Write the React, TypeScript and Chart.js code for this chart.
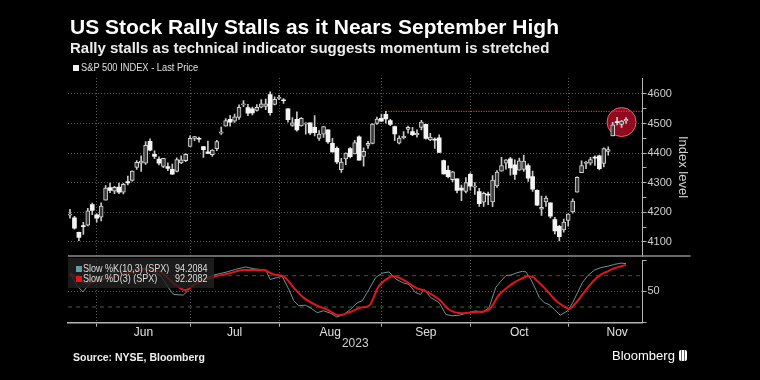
import React, { useEffect, useRef } from 'react';
import { Chart, registerables } from 'chart.js';
Chart.register(...registerables);

// S&P 500 daily candles, 22 May 2023 (index 0) to 17 Nov 2023 (index 125)
const OPEN = [4190,4181,4132,4155,4156,4226,4191,4183,4241,4283,4271,4285,4268,4304,4308,4352,4366,4366,4440,4396,4380,4355,4354,4345,4338,4367,4374,4423,4450,4450,4422,4404,4395,4415,4467,4491,4514,4508,4521,4563,4554,4550,4544,4555,4558,4598,4565,4585,4578,4550,4494,4514,4492,4498,4502,4487,4450,4464,4479,4433,4416,4344,4380,4415,4397,4455,4389,4426,4433,4500,4518,4531,4510,4490,4434,4452,4480,4473,4462,4487,4497,4445,4445,4452,4375,4342,4310,4313,4282,4270,4328,4285,4270,4234,4260,4235,4289,4339,4366,4381,4360,4342,4345,4358,4321,4274,4210,4235,4232,4175,4152,4140,4172,4201,4268,4334,4365,4366,4384,4391,4365,4406,4458,4505,4497,4509];
const HIGH = [4210,4186,4133,4166,4213,4231,4195,4232,4290,4299,4288,4299,4298,4322,4340,4375,4391,4439,4448,4408,4387,4382,4367,4363,4384,4391,4398,4458,4457,4454,4423,4441,4412,4443,4488,4517,4528,4532,4563,4578,4565,4556,4564,4581,4583,4607,4590,4595,4584,4551,4520,4540,4520,4503,4502,4527,4476,4490,4479,4450,4421,4382,4401,4419,4443,4458,4418,4440,4500,4522,4532,4541,4514,4491,4458,4473,4491,4487,4479,4511,4498,4467,4452,4462,4376,4357,4338,4313,4292,4317,4333,4300,4281,4268,4268,4324,4341,4386,4378,4386,4377,4383,4393,4364,4339,4276,4255,4255,4232,4183,4156,4177,4195,4245,4320,4374,4372,4386,4391,4393,4418,4421,4504,4521,4511,4520];
const LOW = [4180,4143,4104,4125,4154,4192,4166,4171,4241,4266,4263,4263,4262,4292,4305,4345,4338,4362,4407,4381,4360,4351,4341,4328,4336,4364,4371,4423,4442,4437,4385,4398,4389,4408,4463,4491,4491,4504,4514,4557,4527,4529,4542,4553,4547,4528,4563,4581,4568,4505,4490,4474,4491,4464,4462,4458,4443,4453,4433,4403,4364,4335,4361,4384,4397,4376,4356,4416,4431,4497,4507,4501,4493,4442,4431,4448,4467,4459,4454,4478,4447,4442,4416,4402,4329,4316,4303,4265,4239,4265,4275,4260,4220,4220,4226,4219,4284,4339,4346,4325,4311,4342,4338,4304,4270,4223,4189,4220,4181,4127,4103,4133,4153,4197,4268,4334,4347,4360,4358,4343,4353,4393,4458,4495,4487,4500];
const CLOSE = [4193,4146,4115,4151,4205,4206,4180,4221,4282,4274,4284,4268,4294,4299,4339,4369,4373,4426,4410,4389,4366,4382,4348,4329,4378,4377,4396,4450,4456,4447,4412,4399,4410,4439,4472,4510,4505,4523,4555,4566,4535,4536,4555,4567,4567,4537,4582,4589,4577,4513,4502,4478,4518,4499,4468,4469,4464,4490,4438,4404,4370,4370,4400,4388,4436,4376,4406,4433,4498,4515,4508,4516,4497,4465,4451,4457,4487,4462,4467,4505,4450,4454,4444,4402,4330,4320,4337,4274,4275,4300,4288,4288,4229,4264,4258,4309,4336,4358,4377,4350,4328,4374,4373,4315,4278,4224,4217,4248,4187,4137,4117,4167,4194,4238,4318,4358,4366,4378,4383,4347,4415,4412,4496,4503,4508,4514];

const MONTH_LABELS = ['Jun', 'Jul', 'Aug', 'Sep', 'Oct', 'Nov'];
const MONTH_END_IDX = [6, 27, 47, 70, 90, 112];
const MONTH_LABEL_IDX = [16.5, 37, 58.5, 80, 101, 123];
const YEAR_LABEL = '2023';
const PRICE_TICKS = [4100, 4150, 4200, 4250, 4300, 4350, 4400, 4450, 4500, 4550, 4600];
const SEPT_HIGH = 4541;
const SEPT_HIGH_IDX = 71;
const HIGHLIGHT_IDX = 124;
const HIGHLIGHT_VALUE = 4505;

// Slow stochastic (x = trading-day index)
const K_IDX = [0,1.5,2.9,3.8,6,9,12.8,17.3,20.3,22.5,23.3,25.5,27,29.3,32.3,35.3,37.2,39.5,41.3,44,45,46.5,47.7,49.2,50.3,51.4,52.9,54,55.6,57,58.6,60,61.5,63,64.6,65.7,67.2,68.7,70.2,71.7,73.2,74.7,76.2,77.7,78.8,79.6,81.1,83,84.5,86,87.5,89.7,91.2,92.7,94.2,95.7,96.8,98,99.1,100.2,101.7,102.5,103.6,104.7,105.5,106.6,107.7,108.9,110.2,111.9,113,114.1,115.2,116.4,117.9,119.4,120.9,122.4,123.9,125];
const K_VAL = [79,60,49,57,71,79,84,87,76,52,45,44,55,68,76,81,85,89,86,84,69,72,74,53,35,27,28,24,16,19,15,9,13,21,32,35,53,72,79,81,70,64,61,48,45,53,40,32,13,11,12,16,19,16,24,56,66,75,76,79,82,81,69,53,40,32,29,21,12,19,32,48,64,75,84,88,90,93,95,94.2];
const D_IDX = [0,3.8,6.8,11.3,17.3,20.3,23.3,25.9,28.5,32.3,36,39,43.5,45.8,48,50.3,52.5,55.6,57.8,60.4,63,65.3,67.2,69.4,71.7,72.8,75.5,77.7,80,83,85.2,88.2,91.2,94.2,96.5,98.3,99.8,101.4,102.9,104,105.1,106.6,108.1,109.6,111.5,112.2,113.4,114.9,116.4,117.9,119.4,120.9,122.4,123.9,125];
const D_VAL = [79,63,68,76,84,81,63,52,63,73,79,84,84,77,74,56,40,27,21,12,17,24,27,58,72,74,66,56,50,37,21,15,17,21,45,56,64,70,74,73,66,56,44,33,24,22,29,42,56,68,77,82,87,90,92.2];
const K_LAST = '94.2084';
const D_LAST = '92.2082';
const STOCH_TICKS = [0, 50, 100];
const OVERBOUGHT = 75;
const OVERSOLD = 25;

const X_MIN = -0.45;
const X_MAX = 128.7;
const FONT = '"Liberation Sans", Arial, sans-serif';
const GRID = '#5a5a5a';
const AXIS = '#b4b4b4';

export default function App() {
  const priceRef = useRef<HTMLCanvasElement>(null);
  const stochRef = useRef<HTMLCanvasElement>(null);

  useEffect(() => {
    const isUp = (i: number) => CLOSE[i] >= OPEN[i];
    const c1 = new Chart(priceRef.current as HTMLCanvasElement, {
      type: 'bar',
      data: {
        datasets: [
          {
            type: 'bar',
            label: 'body',
            data: OPEN.map((o, i) => ({ x: i, y: [o, CLOSE[i]] })) as any,
            backgroundColor: OPEN.map((_, i) => (isUp(i) ? '#3a3a3a' : '#f4f4f4')),
            borderColor: '#d8d8d8',
            borderWidth: OPEN.map((_, i) => (isUp(i) ? 1 : 0)) as any,
            borderSkipped: false,
            barThickness: 4,
            minBarLength: 1,
            grouped: false,
            order: 1,
          } as any,
          {
            type: 'bar',
            label: 'wick',
            data: LOW.map((l, i) => ({ x: i, y: [l, HIGH[i]] })) as any,
            backgroundColor: '#c8c8c8',
            barThickness: 1,
            grouped: false,
            order: 2,
          } as any,
          {
            type: 'line',
            label: 'Sep high',
            data: [{ x: SEPT_HIGH_IDX, y: SEPT_HIGH }, { x: X_MAX, y: SEPT_HIGH }],
            borderColor: '#e8323f',
            borderWidth: 1.4,
            borderDash: [1.2, 1.3],
            pointRadius: 0,
            order: 5,
          } as any,
          {
            type: 'scatter',
            label: 'highlight',
            data: [{ x: HIGHLIGHT_IDX, y: HIGHLIGHT_VALUE }],
            pointRadius: 14.5,
            backgroundColor: 'rgba(180,14,40,0.8)',
            borderColor: 'rgba(255,100,120,0.9)',
            borderWidth: 1,
            order: 10,
          } as any,
        ],
      },
      options: {
        animation: false,
        responsive: false,
        events: [],
        layout: { padding: { left: 68, right: 69.2, top: 78, bottom: 124 } },
        plugins: { legend: { display: false }, tooltip: { enabled: false } },
        scales: {
          x: {
            type: 'linear',
            min: X_MIN,
            max: X_MAX,
            offset: false,
            afterBuildTicks: (s: any) => { s.ticks = MONTH_END_IDX.map((v) => ({ value: v })); },
            afterFit: (s: any) => { s.height = 0; },
            ticks: { display: false },
            grid: { color: GRID, lineWidth: 1, drawTicks: false, offset: false },
            border: { display: false, dash: [1, 2] },
          },
          y: {
            type: 'linear',
            position: 'right',
            min: 4052,
            max: 4654,
            afterBuildTicks: (s: any) => { s.ticks = PRICE_TICKS.map((v) => ({ value: v })); },
            afterFit: (s: any) => { s.width = 48.3; },
            ticks: {
              autoSkip: false,
              color: '#d0d0d0',
              font: { family: FONT, size: 11 },
              padding: 1,
              callback: (v: any) => (Number(v) % 100 === 0 ? String(v) : ''),
            },
            grid: {
              color: (ctx: any) => (ctx.tick && ctx.tick.value % 100 === 0 ? GRID : 'rgba(0,0,0,0)'),
              tickColor: AXIS,
              tickLength: 4,
            },
            border: { display: true, color: AXIS, width: 1, dash: [1, 2] },
            title: { display: true, text: 'Index level', color: '#d0d0d0', font: { family: FONT, size: 13 }, padding: 0 },
          },
        },
      } as any,
    });

    const sepPlugin = {
      id: 'panelSep',
      afterDraw(chart: any) {
        const { ctx, chartArea } = chart;
        ctx.save();
        ctx.strokeStyle = '#8c8c8c';
        ctx.lineWidth = 1.5;
        ctx.beginPath();
        ctx.moveTo(chartArea.left, chartArea.top - 4);
        ctx.lineTo(chartArea.right + 48, chartArea.top - 4);
        ctx.stroke();
        ctx.restore();
      },
    };

    const c2 = new Chart(stochRef.current as HTMLCanvasElement, {
      type: 'line',
      data: {
        datasets: [
          {
            label: 'Slow %D(3) (SPX)',
            data: D_IDX.map((x, i) => ({ x, y: D_VAL[i] })),
            borderColor: '#e3141c',
            borderWidth: 2,
            pointRadius: 0,
            cubicInterpolationMode: 'monotone',
            order: 1,
          },
          {
            label: 'Slow %K(10,3) (SPX)',
            data: K_IDX.map((x, i) => ({ x, y: K_VAL[i] })),
            borderColor: '#6a9696',
            borderWidth: 1,
            pointRadius: 0,
            tension: 0,
            order: 2,
          },
          {
            label: 'overbought',
            data: [{ x: X_MIN, y: OVERBOUGHT }, { x: X_MAX, y: OVERBOUGHT }],
            borderColor: '#8e2c2c',
            borderWidth: 1,
            borderDash: [4, 4],
            pointRadius: 0,
            order: 5,
          },
          {
            label: 'oversold',
            data: [{ x: X_MIN, y: OVERSOLD }, { x: X_MAX, y: OVERSOLD }],
            borderColor: '#2f6a3c',
            borderWidth: 1,
            borderDash: [4, 4],
            pointRadius: 0,
            order: 5,
          },
        ],
      } as any,
      options: {
        animation: false,
        responsive: false,
        events: [],
        layout: { padding: { left: 68, right: 69.2, top: 260, bottom: 29.3 } },
        plugins: { legend: { display: false }, tooltip: { enabled: false } },
        scales: {
          x: {
            type: 'linear',
            min: X_MIN,
            max: X_MAX,
            offset: false,
            weight: 0,
            afterBuildTicks: (s: any) => { s.ticks = MONTH_END_IDX.map((v) => ({ value: v })); },
            afterFit: (s: any) => { s.height = 0; },
            ticks: { display: false },
            grid: { color: GRID, drawTicks: true, tickLength: 4, tickColor: AXIS, offset: false },
            border: { display: true, color: AXIS, width: 1.5, dash: [1, 2] },
          },
          x2: {
            type: 'linear',
            position: 'bottom',
            min: X_MIN,
            max: X_MAX,
            offset: false,
            weight: 1,
            afterBuildTicks: (s: any) => { s.ticks = MONTH_LABEL_IDX.map((v) => ({ value: v })); },
            afterFit: (s: any) => { s.height = 28; },
            ticks: {
              autoSkip: false,
              maxRotation: 0,
              color: '#e0e0e0',
              font: { family: FONT, size: 12 },
              padding: 3,
              callback: (v: any) => MONTH_LABELS[MONTH_LABEL_IDX.indexOf(Number(v))] || '',
            },
            grid: { display: false, drawTicks: false },
            border: { display: false },
            title: { display: true, text: YEAR_LABEL, color: '#d0d0d0', font: { family: FONT, size: 12 }, padding: 0 },
          },
          y: {
            type: 'linear',
            position: 'right',
            min: 0,
            max: 100,
            afterBuildTicks: (s: any) => { s.ticks = STOCH_TICKS.map((v) => ({ value: v })); },
            afterFit: (s: any) => { s.width = 48.3; },
            ticks: {
              autoSkip: false,
              color: '#d0d0d0',
              font: { family: FONT, size: 11 },
              padding: 1,
              callback: (v: any) => (Number(v) === 50 ? '50' : ''),
            },
            grid: {
              color: (ctx: any) => (ctx.tick && ctx.tick.value === 50 ? GRID : 'rgba(0,0,0,0)'),
              tickColor: AXIS,
              tickLength: 4,
            },
            border: { display: true, color: AXIS, width: 1, dash: [1, 2] },
          },
        },
      } as any,
      plugins: [sepPlugin],
    });

    return () => {
      c1.destroy();
      c2.destroy();
    };
  }, []);

  const abs = (o: any) => ({ position: 'absolute' as const, whiteSpace: 'nowrap' as const, ...o });
  const narrow = { display: 'inline-block', transform: 'scaleX(0.86)', transformOrigin: 'left center' };
  const narrowLegend = { display: 'inline-block', transform: 'scaleX(0.93)', transformOrigin: 'left center' };

  return (
    <div style={{ position: 'fixed', left: 0, top: 0, width: 760, height: 380, background: '#000', overflow: 'hidden', fontFamily: FONT }}>
      <canvas ref={priceRef} width={760} height={380} style={{ position: 'absolute', left: 0, top: 0, width: 760, height: 380 }} />
      <canvas ref={stochRef} width={760} height={380} style={{ position: 'absolute', left: 0, top: 0, width: 760, height: 380 }} />

      <div style={abs({ left: 70, top: 16, fontSize: 21, lineHeight: '22px', fontWeight: 700, color: '#ffffff' })}>
        US Stock Rally Stalls as it Nears September High
      </div>
      <div style={abs({ left: 70, top: 39, fontSize: 15, lineHeight: '17px', fontWeight: 700, color: '#ececec' })}>
        Rally stalls as technical indicator suggests momentum is stretched
      </div>
      <div style={abs({ left: 73, top: 62, fontSize: 10, lineHeight: '12px', color: '#e0e0e0' })}>
        <span style={{ display: 'inline-block', width: 6, height: 6, background: '#f0f0f0', marginRight: 2 }} />
        <span style={narrowLegend}>S&amp;P 500 INDEX - Last Price</span>
      </div>

      <div style={abs({ left: 68, top: 258, width: 146, height: 30, background: 'rgba(34,34,34,0.8)' })} />
      <div style={abs({ left: 76, top: 262, fontSize: 10.5, lineHeight: '12px', color: '#dedede' })}>
        <span style={{ display: 'inline-block', width: 6, height: 6, background: '#5f9fa3', marginRight: 1 }} />
        <span style={narrow}>Slow %K(10,3) (SPX)</span>
      </div>
      <div style={abs({ left: 175, top: 262, fontSize: 10.5, lineHeight: '12px', color: '#dedede' })}>
        <span style={narrow}>{K_LAST}</span>
      </div>
      <div style={abs({ left: 76, top: 272, fontSize: 10.5, lineHeight: '12px', color: '#dedede' })}>
        <span style={{ display: 'inline-block', width: 6, height: 6, background: '#e3141c', marginRight: 1 }} />
        <span style={narrow}>Slow %D(3) (SPX)</span>
      </div>
      <div style={abs({ left: 175, top: 272, fontSize: 10.5, lineHeight: '12px', color: '#dedede' })}>
        <span style={narrow}>{D_LAST}</span>
      </div>

      <div style={abs({ left: 73, top: 351, fontSize: 10.5, lineHeight: '12px', fontWeight: 700, color: '#eeeeee' })}>
        Source: NYSE, Bloomberg
      </div>
      <div style={abs({ left: 612, top: 348, fontSize: 13, lineHeight: '16px', color: '#ffffff' })}>
        Bloomberg
        <span style={{ display: 'inline-block', width: 8, height: 11, marginLeft: 4, borderRadius: 2, background: 'repeating-linear-gradient(90deg,#fff 0 2px,#666 2px 3px)', verticalAlign: -1 }} />
      </div>
    </div>
  );
}
